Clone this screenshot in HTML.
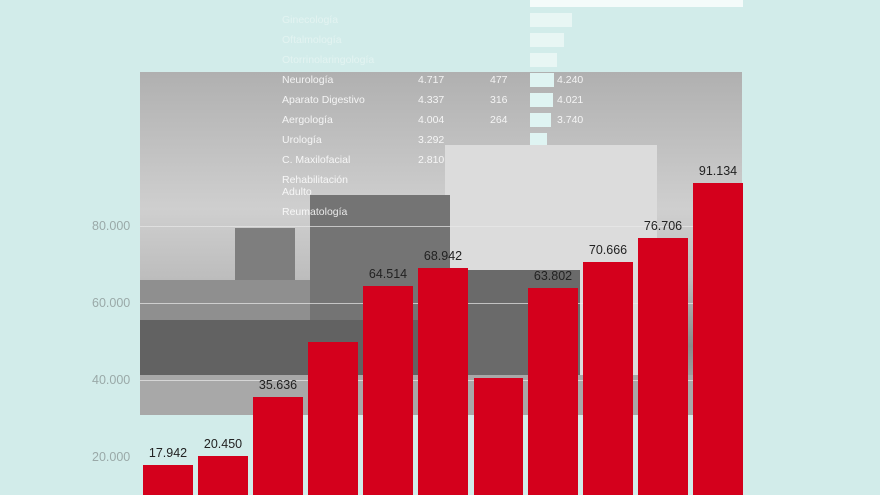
<!DOCTYPE html>
<html><head><meta charset="utf-8"><style>
body{margin:0;width:880px;height:495px;overflow:hidden;background:#d2ecea;font-family:"Liberation Sans",sans-serif;position:relative}
.a{position:absolute}
.bar{position:absolute;background:#d4001c;bottom:0;width:50px}
.v{position:absolute;font-size:12.5px;color:#222;width:70px;text-align:center}
.y{position:absolute;left:92px;font-size:12.5px;color:#9aa9a8}
.t{position:absolute;font-size:10.5px;color:#fff;opacity:.85}
.gl{position:absolute;left:140px;width:603px;height:1px;background:#e8e8e8;opacity:.7}
</style></head><body>
<div class="a" style="left:530px;top:0;width:213px;height:7px;background:#f4fbfa"></div>
<div class="a" style="left:530px;top:13px;width:42px;height:14px;background:#e8f6f4"></div>
<div class="a" style="left:530px;top:33px;width:34px;height:14px;background:#e8f6f4"></div>
<div class="a" style="left:530px;top:53px;width:27px;height:14px;background:#e8f6f4"></div>
<div class="t" style="left:282px;top:14px;color:#e6f5f3">Ginecología</div>
<div class="t" style="left:282px;top:34px;color:#e6f5f3">Oftalmología</div>
<div class="t" style="left:282px;top:54px;color:#e6f5f3">Otorrinolaringología</div>
<div class="a" style="left:140px;top:72px;width:602px;height:343px;background:linear-gradient(#b0b0b0,#cfcfcf 40%,#bdbdbd 60%,#8a8a8a 80%,#b8b8b8)"></div>
<div class="a" style="left:445px;top:145px;width:212px;height:270px;background:#dcdcdc"></div>
<div class="a" style="left:310px;top:195px;width:140px;height:220px;background:#747474"></div>
<div class="a" style="left:235px;top:228px;width:60px;height:187px;background:#7e7e7e"></div>
<div class="a" style="left:140px;top:280px;width:170px;height:60px;background:#8f8f8f"></div>
<div class="a" style="left:140px;top:320px;width:300px;height:55px;background:#626262"></div>
<div class="a" style="left:460px;top:270px;width:120px;height:110px;background:#6a6a6a"></div>
<div class="a" style="left:140px;top:375px;width:602px;height:40px;background:#a8a8a8"></div>
<div class="a" style="left:530px;top:73px;width:24px;height:14px;background:#dff4f2"></div>
<div class="a" style="left:530px;top:93px;width:23px;height:14px;background:#dff4f2"></div>
<div class="a" style="left:530px;top:113px;width:21px;height:14px;background:#dff4f2"></div>
<div class="a" style="left:530px;top:133px;width:17px;height:12px;background:#dff4f2"></div>
<div class="t" style="left:282px;top:74px">Neurología</div><div class="t" style="left:418px;top:74px">4.717</div><div class="t" style="left:490px;top:74px">477</div><div class="t" style="left:557px;top:74px">4.240</div>
<div class="t" style="left:282px;top:94px">Aparato Digestivo</div><div class="t" style="left:418px;top:94px">4.337</div><div class="t" style="left:490px;top:94px">316</div><div class="t" style="left:557px;top:94px">4.021</div>
<div class="t" style="left:282px;top:114px">Aergología</div><div class="t" style="left:418px;top:114px">4.004</div><div class="t" style="left:490px;top:114px">264</div><div class="t" style="left:557px;top:114px">3.740</div>
<div class="t" style="left:282px;top:134px">Urología</div><div class="t" style="left:418px;top:134px">3.292</div>
<div class="t" style="left:282px;top:154px">C. Maxilofacial</div><div class="t" style="left:418px;top:154px">2.810</div>
<div class="t" style="left:282px;top:174px;line-height:12px">Rehabilitación<br>Adulto</div>
<div class="t" style="left:282px;top:206px">Reumatología</div>
<div class="gl" style="top:226px"></div><div class="gl" style="top:303px"></div><div class="gl" style="top:380px"></div>
<div class="y" style="top:219px">80.000</div>
<div class="y" style="top:296px">60.000</div>
<div class="y" style="top:373px">40.000</div>
<div class="y" style="top:450px">20.000</div>
<div class="bar" style="left:143px;top:465px"></div>
<div class="bar" style="left:198px;top:456px"></div>
<div class="bar" style="left:253px;top:397px"></div>
<div class="bar" style="left:308px;top:342px"></div>
<div class="bar" style="left:363px;top:286px"></div>
<div class="bar" style="left:418px;top:268px"></div>
<div class="bar" style="left:474px;top:378px;width:49px"></div>
<div class="bar" style="left:528px;top:288px"></div>
<div class="bar" style="left:583px;top:262px"></div>
<div class="bar" style="left:638px;top:238px"></div>
<div class="bar" style="left:693px;top:183px"></div>
<div class="v" style="left:133px;top:446px">17.942</div>
<div class="v" style="left:188px;top:437px">20.450</div>
<div class="v" style="left:243px;top:378px">35.636</div>
<div class="v" style="left:353px;top:267px">64.514</div>
<div class="v" style="left:408px;top:249px">68.942</div>
<div class="v" style="left:518px;top:269px">63.802</div>
<div class="v" style="left:573px;top:243px">70.666</div>
<div class="v" style="left:628px;top:219px">76.706</div>
<div class="v" style="left:683px;top:164px">91.134</div>
</body></html>
